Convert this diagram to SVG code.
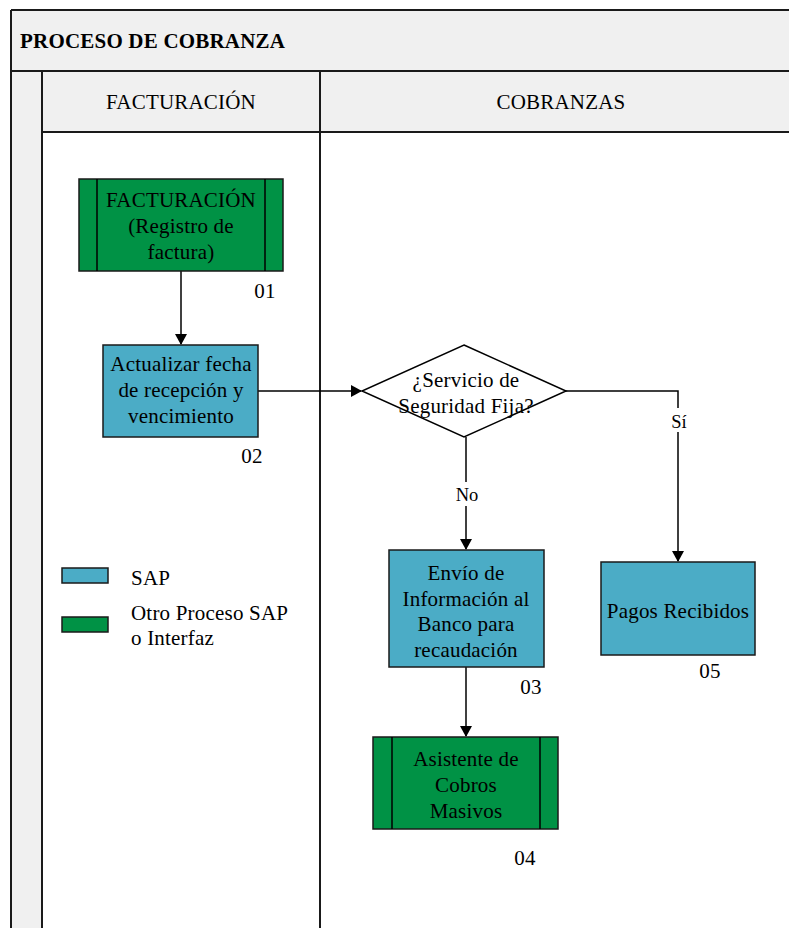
<svg xmlns="http://www.w3.org/2000/svg" width="789" height="928" viewBox="0 0 789 928">
<style>
.t{font-family:"Liberation Serif","Times New Roman",serif;font-size:21px;fill:#000;letter-spacing:0.2px;text-anchor:middle}
.tl{text-anchor:start}
.lbl{font-size:18.5px;letter-spacing:0}
.ln{stroke:#1a1a1a;stroke-width:2;fill:none}
.blue{fill:#4bacc6;stroke:#1a1a1a;stroke-width:1.5}
.green{fill:#009245;stroke:#1a1a1a;stroke-width:1.5}
.c{stroke:#000;stroke-width:1.5;fill:none}
</style>
<defs>
<marker id="ah" markerWidth="12" markerHeight="12" refX="10" refY="6" orient="auto" markerUnits="userSpaceOnUse">
<path d="M0,0 L11,6 L0,12 Z" fill="#000"/>
</marker>
</defs>
<rect width="789" height="928" fill="#fff"/>
<g id="pool">
<rect x="11" y="10" width="790" height="122" fill="#f0f0f0"/>
<rect x="11" y="71" width="31" height="870" fill="#f0f0f0"/>
<path class="ln" d="M11,10 H800 M11,10 V928 M11,71 H800 M42,71 V928 M42,132 H800 M320,71 V928"/>
<text class="t" x="20" y="48" style="text-anchor:start;font-weight:bold">PROCESO DE COBRANZA</text>
<text class="t" x="181" y="109">FACTURACIÓN</text>
<text class="t" x="561" y="109">COBRANZAS</text>
</g>
<g id="connectors">
<line class="c" x1="181" y1="271" x2="181" y2="344" marker-end="url(#ah)"/>
<line class="c" x1="258" y1="391" x2="361" y2="391" marker-end="url(#ah)"/>
<polyline class="c" points="566,391 678,391 678,561" marker-end="url(#ah)"/>
<line class="c" x1="466" y1="437" x2="466" y2="549" marker-end="url(#ah)"/>
<line class="c" x1="466" y1="667" x2="466" y2="736" marker-end="url(#ah)"/>
<rect x="665" y="408" width="28" height="24" fill="#fff"/>
<text class="t lbl" x="679" y="428">Sí</text>
<rect x="451" y="482" width="30" height="24" fill="#fff"/>
<text class="t lbl" x="467" y="501">No</text>
</g>
<g id="n01">
<rect class="green" x="79" y="179" width="204" height="92"/>
<path class="c" d="M97,179 V271 M265,179 V271"/>
<text class="t" x="181" y="207">FACTURACIÓN</text>
<text class="t" x="181" y="233">(Registro de</text>
<text class="t" x="181" y="259">factura)</text>
<text class="t" x="265" y="298">01</text>
</g>
<g id="n02">
<rect class="blue" x="103" y="345" width="155" height="92"/>
<text class="t" x="181" y="371">Actualizar fecha</text>
<text class="t" x="181" y="397">de recepción y</text>
<text class="t" x="181" y="423">vencimiento</text>
<text class="t" x="252" y="463">02</text>
</g>
<g id="decision">
<polygon points="464,345 566,391 464,437 362,391" fill="#fff" stroke="#000" stroke-width="1.5"/>
<text class="t" x="466" y="387">¿Servicio de</text>
<text class="t" x="466" y="413">Seguridad Fija?</text>
</g>
<g id="n03">
<rect class="blue" x="389" y="550" width="155" height="117"/>
<text class="t" x="466" y="580">Envío de</text>
<text class="t" x="466" y="606">Información al</text>
<text class="t" x="466" y="631">Banco para</text>
<text class="t" x="466" y="657">recaudación</text>
<text class="t" x="531" y="694">03</text>
</g>
<g id="n05">
<rect class="blue" x="601" y="562" width="154" height="93"/>
<text class="t" x="678" y="618">Pagos Recibidos</text>
<text class="t" x="710" y="678">05</text>
</g>
<g id="n04">
<rect class="green" x="373" y="737" width="185" height="92"/>
<path class="c" d="M392,737 V829 M540,737 V829"/>
<text class="t" x="466" y="766">Asistente de</text>
<text class="t" x="466" y="792">Cobros</text>
<text class="t" x="466" y="818">Masivos</text>
<text class="t" x="525" y="865">04</text>
</g>
<g id="legend">
<rect class="blue" x="62" y="568" width="46" height="15"/>
<text class="t tl" x="131" y="585">SAP</text>
<rect class="green" x="62" y="617" width="46" height="15"/>
<text class="t tl" x="131" y="620">Otro Proceso SAP</text>
<text class="t tl" x="131" y="645">o Interfaz</text>
</g>
</svg>
